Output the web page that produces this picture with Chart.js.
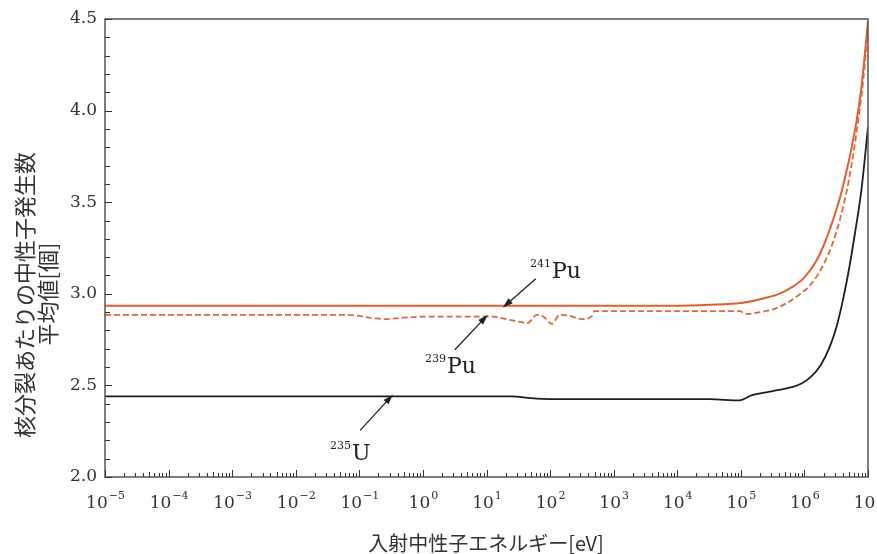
<!DOCTYPE html>
<html lang="ja">
<head>
<meta charset="utf-8">
<title>核分裂あたりの中性子発生数</title>
<script src="https://cdn.jsdelivr.net/npm/chart.js@4.4.1/dist/chart.umd.min.js"></script>
<style>
  html, body { margin: 0; padding: 0; background: #fff; }
  #nuChart { display: block; }
</style>
</head>
<body>
<canvas id="nuChart" width="877" height="554"></canvas>
<script>
"use strict";

// incident energy [eV] and mean neutrons per fission, one pair of arrays per nuclide
const energyU235 = [1e-5, 25, 50, 100, 3.2e4, 9.5e4, 1.5e5, 2.5e5, 4e5, 6.3e5, 9e5, 1.25e6, 1.8e6, 2.5e6, 3.2e6, 4e6, 5e6, 6.3e6, 7.9e6, 1e7];
const nuU235     = [2.44, 2.44, 2.43, 2.425, 2.425, 2.418, 2.447, 2.462, 2.475, 2.49, 2.51, 2.545, 2.61, 2.71, 2.82, 2.96, 3.13, 3.34, 3.57, 3.91];

const energyPu239 = [1e-5, 0.063, 0.16, 0.25, 0.5, 1, 12.6, 20, 32, 44, 62, 79, 107, 141, 200, 316, 457, 500, 9.5e4, 1.23e5, 2e5, 3.2e5, 5e5, 7.9e5, 1.25e6, 2e6, 3.2e6, 5e6, 7.1e6, 8.5e6, 1e7];
const nuPu239     = [2.885, 2.885, 2.868, 2.862, 2.87, 2.875, 2.875, 2.862, 2.848, 2.84, 2.885, 2.875, 2.835, 2.885, 2.88, 2.862, 2.88, 2.905, 2.905, 2.89, 2.90, 2.915, 2.945, 2.99, 3.05, 3.16, 3.34, 3.62, 3.96, 4.18, 4.45];

const energyPu241 = [1e-5, 1e4, 3.2e4, 1e5, 1.6e5, 2.5e5, 4e5, 6.3e5, 1e6, 1.6e6, 2.5e6, 4e6, 6.3e6, 7.9e6, 1e7];
const nuPu241     = [2.935, 2.935, 2.94, 2.95, 2.962, 2.978, 3.00, 3.035, 3.09, 3.19, 3.35, 3.58, 3.90, 4.13, 4.49];

// axis ticks
const decadeExponents = [-5, -4, -3, -2, -1, 0, 1, 2, 3, 4, 5, 6, 7];
const yTickLabels = [2.0, 2.5, 3.0, 3.5, 4.0, 4.5];

const serif = '"DejaVu Serif", "Liberation Serif", serif';
const jp = '"Noto Sans CJK JP", "Noto Sans", sans-serif';

function toPoints(xs, ys) {
  return xs.map((x, i) => ({ x: x, y: ys[i] }));
}

// arrow + isotope label; tip sits on a curve, tail offset in px
const isotopeNotes = [
  { mass: '241', sym: 'Pu', tipE: 18, tipNu: 2.935, dx: 33, dy: -27, tx: 530, ty: 278 },
  { mass: '239', sym: 'Pu', tipE: 10.5, tipNu: 2.875, dx: -33, dy: 33, tx: 425, ty: 373 },
  { mass: '235', sym: 'U', tipE: 0.34, tipNu: 2.44, dx: -33, dy: 34, tx: 330, ty: 460 }
];

function drawArrow(ctx, x0, y0, x1, y1) {
  const ang = Math.atan2(y1 - y0, x1 - x0);
  const head = 11;
  ctx.strokeStyle = '#222';
  ctx.fillStyle = '#222';
  ctx.lineWidth = 1.3;
  ctx.beginPath();
  ctx.moveTo(x0, y0);
  ctx.lineTo(x1 - Math.cos(ang) * head * 0.8, y1 - Math.sin(ang) * head * 0.8);
  ctx.stroke();
  ctx.beginPath();
  ctx.moveTo(x1, y1);
  ctx.lineTo(x1 - head * Math.cos(ang - 0.3), y1 - head * Math.sin(ang - 0.3));
  ctx.lineTo(x1 - head * Math.cos(ang + 0.3), y1 - head * Math.sin(ang + 0.3));
  ctx.closePath();
  ctx.fill();
}

const framePlugin = {
  id: 'frameAndLabels',
  afterDraw(chart) {
    const ctx = chart.ctx;
    const area = chart.chartArea;
    const xs = chart.scales.x;
    const ys = chart.scales.y;
    ctx.save();

    // plot frame
    ctx.strokeStyle = '#555';
    ctx.lineWidth = 1.5;
    ctx.strokeRect(area.left, area.top, area.right - area.left, area.bottom - area.top);

    // y ticks every 0.1, drawn inward
    ctx.strokeStyle = '#333';
    ctx.lineWidth = 1;
    for (let k = 20; k <= 45; k++) {
      const py = Math.round(ys.getPixelForValue(k / 10)) + 0.5;
      const len = (k % 5 === 0) ? 7 : 5;
      ctx.beginPath();
      ctx.moveTo(area.left, py);
      ctx.lineTo(area.left + len, py);
      ctx.stroke();
    }

    // x log ticks, drawn upward from the bottom axis
    decadeExponents.forEach(e => {
      for (let m = 1; m <= 9; m++) {
        const v = m * Math.pow(10, e);
        if (v > 1e7) break;
        const px = Math.round(xs.getPixelForValue(v)) + 0.5;
        const len = (m === 1) ? 7 : (m === 5 ? 5 : 4);
        ctx.beginPath();
        ctx.moveTo(px, area.bottom);
        ctx.lineTo(px, area.bottom - len);
        ctx.stroke();
      }
    });

    // y tick labels
    ctx.fillStyle = '#333';
    ctx.font = '17px ' + serif;
    ctx.textAlign = 'right';
    ctx.textBaseline = 'middle';
    yTickLabels.forEach(v => {
      ctx.fillText(v.toFixed(1), area.left - 8, ys.getPixelForValue(v));
    });

    // x tick labels: 10 with a raised exponent
    ctx.textBaseline = 'alphabetic';
    decadeExponents.forEach(e => {
      const px = xs.getPixelForValue(Math.pow(10, e));
      const exp = e < 0 ? '\u2212' + (-e) : String(e);
      ctx.font = '17px ' + serif;
      const wBase = ctx.measureText('10').width;
      ctx.font = '11px ' + serif;
      const wExp = ctx.measureText(exp).width;
      const left = px - (wBase + wExp) / 2;
      ctx.textAlign = 'left';
      ctx.font = '17px ' + serif;
      ctx.fillText('10', left, 508);
      ctx.font = '11px ' + serif;
      ctx.fillText(exp, left + wBase + 1, 499);
    });

    // axis titles
    ctx.fillStyle = '#333';
    ctx.textAlign = 'center';
    ctx.textBaseline = 'middle';
    ctx.font = '20px ' + jp;
    ctx.fillText('入射中性子エネルギー[eV]', 486, 543);

    ctx.save();
    ctx.translate(25, 295);
    ctx.rotate(-Math.PI / 2);
    ctx.font = '22px ' + jp;
    ctx.fillText('核分裂あたりの中性子発生数', 0, 0);
    ctx.restore();
    ctx.save();
    ctx.translate(48, 294);
    ctx.rotate(-Math.PI / 2);
    ctx.font = '22px ' + jp;
    ctx.fillText('平均値[個]', 0, 0);
    ctx.restore();

    // isotope annotations
    isotopeNotes.forEach(n => {
      const x1 = xs.getPixelForValue(n.tipE);
      const y1 = ys.getPixelForValue(n.tipNu);
      drawArrow(ctx, x1 + n.dx, y1 + n.dy, x1, y1 - Math.sign(n.dy) * 2);
      ctx.fillStyle = '#222';
      ctx.textAlign = 'left';
      ctx.textBaseline = 'alphabetic';
      ctx.font = '11px ' + serif;
      ctx.fillText(n.mass, n.tx, n.ty - 11);
      const wm = ctx.measureText(n.mass).width;
      ctx.font = '22px ' + serif;
      ctx.fillText(n.sym, n.tx + wm + 1, n.ty);
    });

    ctx.restore();
  }
};

new Chart(document.getElementById('nuChart'), {
  type: 'line',
  data: {
    datasets: [
      {
        label: '235U',
        data: toPoints(energyU235, nuU235),
        borderColor: '#1e1e1e',
        borderWidth: 1.8,
        pointRadius: 0,
        cubicInterpolationMode: 'monotone'
      },
      {
        label: '239Pu',
        data: toPoints(energyPu239, nuPu239),
        borderColor: '#e3683a',
        borderWidth: 1.8,
        borderDash: [6, 3],
        pointRadius: 0,
        cubicInterpolationMode: 'monotone'
      },
      {
        label: '241Pu',
        data: toPoints(energyPu241, nuPu241),
        borderColor: '#e45f30',
        borderWidth: 2,
        pointRadius: 0,
        cubicInterpolationMode: 'monotone'
      }
    ]
  },
  options: {
    responsive: false,
    animation: false,
    layout: { padding: { left: 105, right: 9, top: 19, bottom: 77 } },
    plugins: {
      legend: { display: false },
      tooltip: { enabled: false }
    },
    scales: {
      x: { type: 'logarithmic', min: 1e-5, max: 1e7, display: false },
      y: { type: 'linear', min: 2.0, max: 4.5, display: false }
    }
  },
  plugins: [framePlugin]
});
</script>
</body>
</html>
